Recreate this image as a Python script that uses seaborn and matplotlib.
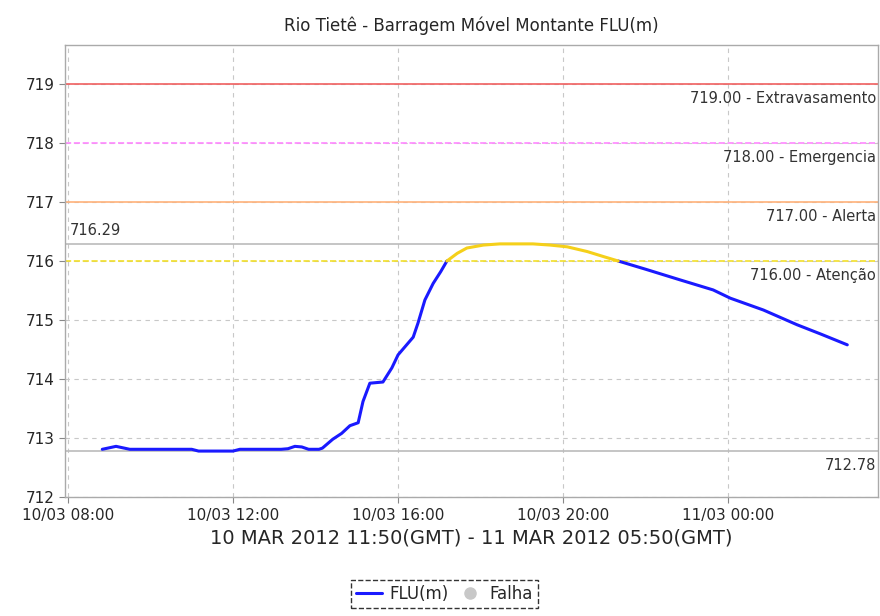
import pandas as pd
import matplotlib
matplotlib.use('Agg')
import matplotlib.pyplot as plt
import matplotlib.dates as mdates
from matplotlib.lines import Line2D
import seaborn as sns

# water level readings (local time)
times = ['2012-03-10 08:50', '2012-03-10 09:10', '2012-03-10 09:30', '2012-03-10 10:00',
         '2012-03-10 10:30', '2012-03-10 11:00', '2012-03-10 11:10', '2012-03-10 11:30',
         '2012-03-10 12:00', '2012-03-10 12:10', '2012-03-10 12:40', '2012-03-10 13:10',
         '2012-03-10 13:20', '2012-03-10 13:30', '2012-03-10 13:40', '2012-03-10 13:50',
         '2012-03-10 14:05', '2012-03-10 14:10', '2012-03-10 14:25', '2012-03-10 14:38',
         '2012-03-10 14:50', '2012-03-10 15:02', '2012-03-10 15:09', '2012-03-10 15:19',
         '2012-03-10 15:38', '2012-03-10 15:51', '2012-03-10 16:00', '2012-03-10 16:22',
         '2012-03-10 16:29', '2012-03-10 16:39', '2012-03-10 16:51', '2012-03-10 17:02',
         '2012-03-10 17:11', '2012-03-10 17:26', '2012-03-10 17:40', '2012-03-10 18:04',
         '2012-03-10 18:28', '2012-03-10 19:16', '2012-03-10 19:41', '2012-03-10 20:06',
         '2012-03-10 20:35', '2012-03-10 21:00', '2012-03-10 21:20', '2012-03-10 22:00',
         '2012-03-10 22:50', '2012-03-10 23:38', '2012-03-11 00:03', '2012-03-11 00:51',
         '2012-03-11 01:40', '2012-03-11 02:15', '2012-03-11 02:53']
levels = [712.81, 712.86, 712.81, 712.81,
          712.81, 712.81, 712.78, 712.78,
          712.78, 712.81, 712.81, 712.81,
          712.82, 712.86, 712.85, 712.81,
          712.81, 712.83, 712.98, 713.08,
          713.21, 713.26, 713.62, 713.93,
          713.95, 714.19, 714.41, 714.71,
          714.95, 715.34, 715.62, 715.82,
          716.00, 716.13, 716.22, 716.27,
          716.29, 716.29, 716.27, 716.24,
          716.16, 716.07, 716.00, 715.86,
          715.68, 715.51, 715.37, 715.17,
          714.92, 714.76, 714.58]

# alert levels
ref_values = [719.0, 718.0, 717.0, 716.0]
ref_names = ['Extravasamento', 'Emergencia', 'Alerta', 'Atenção']
ref_colors = ['#f06060', '#ff88ff', '#ffb27a', '#f2df2a']
ref_styles = ['-', '--', '-', '--']

df = pd.DataFrame({'time': pd.to_datetime(times), 'FLU': levels})
above = df[df['FLU'] >= 716.0]
first_above, last_above = above.index[0], above.index[-1]
before = df.loc[:first_above]
after = df.loc[last_above:]
max_val = df['FLU'].max()
min_val = df['FLU'].min()

sns.set_style('white')
plt.rcParams['font.family'] = ['DejaVu Sans']

fig = plt.figure(figsize=(8.8, 6.16), dpi=100)
ax = fig.add_axes([0.074, 0.193, 0.924, 0.734])

# grid
ax.grid(True, color='#c8c8c8', linestyle=(0, (4, 4)), linewidth=0.8)

for v, name, c, ls in zip(ref_values, ref_names, ref_colors, ref_styles):
    ax.axhline(v, color=c, linestyle=ls, linewidth=1.2, zorder=2)
    ax.annotate(f'{v:.2f} - {name}', xy=(0.997, v), xycoords=('axes fraction', 'data'),
                xytext=(0, -5), textcoords='offset points', ha='right', va='top',
                fontsize=10.5, color='#333333')

ax.axhline(max_val, color='#bbbbbb', linewidth=1.2, zorder=2)
ax.annotate(f'{max_val:.2f}', xy=(0.006, max_val), xycoords=('axes fraction', 'data'),
            xytext=(0, 4), textcoords='offset points', ha='left', va='bottom',
            fontsize=10.5, color='#333333')
ax.axhline(min_val, color='#bbbbbb', linewidth=1.2, zorder=2)
ax.annotate(f'{min_val:.2f}', xy=(0.997, min_val), xycoords=('axes fraction', 'data'),
            xytext=(0, -5), textcoords='offset points', ha='right', va='top',
            fontsize=10.5, color='#333333')

for part in [before, after]:
    sns.lineplot(data=part, x='time', y='FLU', color='#1a1aff', linewidth=2.2,
                 estimator=None, sort=False, ax=ax, zorder=3)
sns.lineplot(data=above, x='time', y='FLU', color='#f5d01a', linewidth=2.2,
             estimator=None, sort=False, ax=ax, zorder=4)

ax.set_ylim(712, 719.66)
ax.set_yticks([712, 713, 714, 715, 716, 717, 718, 719])
ax.set_xlim(pd.Timestamp('2012-03-10 07:56'), pd.Timestamp('2012-03-11 03:38'))
ax.xaxis.set_major_locator(mdates.HourLocator(byhour=[0, 4, 8, 12, 16, 20]))
ax.xaxis.set_major_formatter(mdates.DateFormatter('%d/%m %H:%M'))
ax.tick_params(axis='both', labelsize=11, length=4, color='#888888', direction='out',
               bottom=True, left=True)

for side, sp in ax.spines.items():
    sp.set_color('#aaaaaa')
    sp.set_linewidth(1.0)

ax.set_title('Rio Tietê - Barragem Móvel Montante FLU(m)', fontsize=12, pad=10)
ax.set_xlabel('10 MAR 2012 11:50(GMT) - 11 MAR 2012 05:50(GMT)', fontsize=14, labelpad=4)
ax.set_ylabel('')

handles = [Line2D([0], [0], color='#1a1aff', linewidth=2.2),
           Line2D([0], [0], marker='o', color='none', markerfacecolor='#c8c8c8',
                  markeredgecolor='#c8c8c8', markersize=8)]
leg = fig.legend(handles, ['FLU(m)', 'Falha'], loc='lower center', ncol=2,
                 bbox_to_anchor=(0.505, 0.0), fontsize=12, frameon=True, fancybox=False,
                 handlelength=1.6, handletextpad=0.4, columnspacing=0.5,
                 borderpad=0.3, edgecolor='black')
leg.get_frame().set_linestyle('--')
leg.get_frame().set_linewidth(1.0)

plt.savefig('out.png', dpi=100)
